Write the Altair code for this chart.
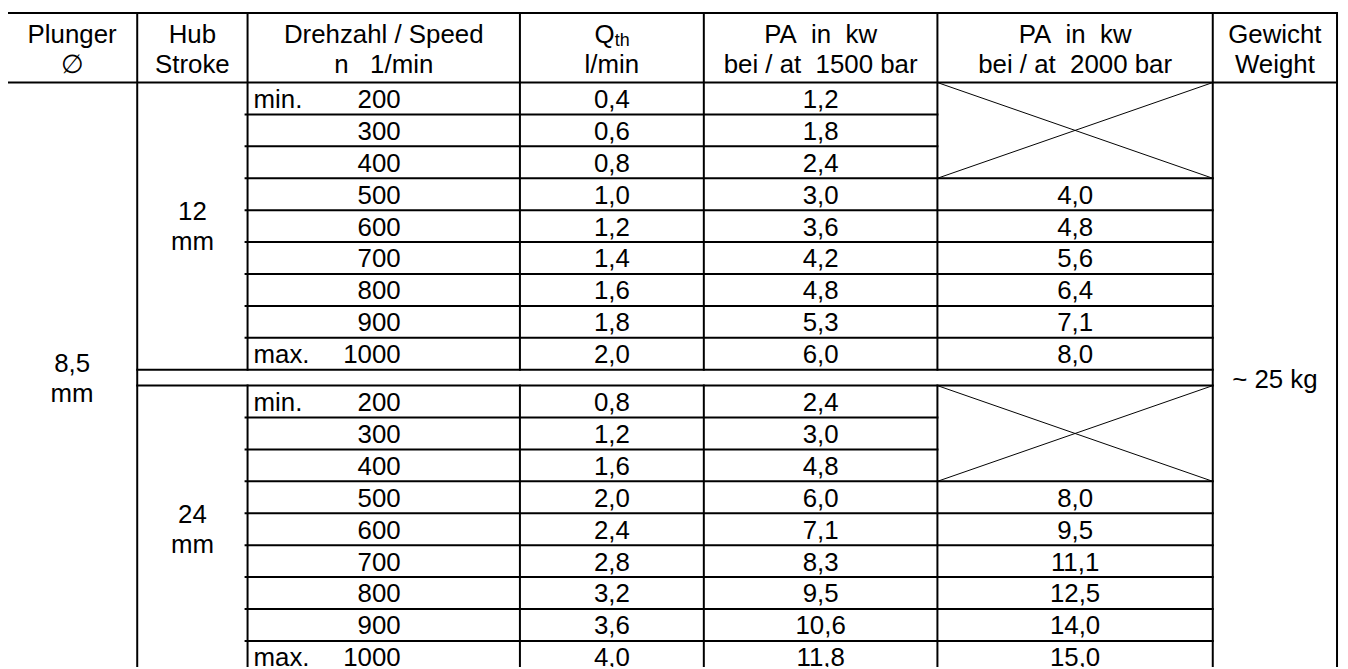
import altair as alt
import pandas as pd

# ---------------- data ----------------
speeds = [200, 300, 400, 500, 600, 700, 800, 900, 1000]
speed_tags = ["min.", "", "", "", "", "", "", "", "max."]

qth_12 = ["0,4", "0,6", "0,8", "1,0", "1,2", "1,4", "1,6", "1,8", "2,0"]
pa1500_12 = ["1,2", "1,8", "2,4", "3,0", "3,6", "4,2", "4,8", "5,3", "6,0"]
pa2000_12 = ["", "", "", "4,0", "4,8", "5,6", "6,4", "7,1", "8,0"]

qth_24 = ["0,8", "1,2", "1,6", "2,0", "2,4", "2,8", "3,2", "3,6", "4,0"]
pa1500_24 = ["2,4", "3,0", "4,8", "6,0", "7,1", "8,3", "9,5", "10,6", "11,8"]
pa2000_24 = ["", "", "", "8,0", "9,5", "11,1", "12,5", "14,0", "15,0"]

strokes = ["12", "24"]
stroke_unit = "mm"
plunger = ["8,5", "mm"]
weight = "~ 25 kg"

NB = "\u00a0"
header_1 = ["Plunger", "Hub", "Drehzahl / Speed", "Q",
            f"PA{NB}{NB}in{NB}{NB}kw", f"PA{NB}{NB}in{NB}{NB}kw", "Gewicht"]
header_2 = ["\u2205", "Stroke", f"n{NB}{NB}{NB}1/min", "l/min",
            f"bei / at{NB}{NB}1500 bar", f"bei / at{NB}{NB}2000 bar", "Weight"]
q_sub = "th"

# ---------------- layout (page pixels) ----------------
W, H = 1340, 661
M = 8
FS = 26
FONT = "Liberation Sans"
col_edges = [7, 138, 249, 523, 708, 943, 1220, 1345]
y_top, y_head, row_h, gap_h = 11, 81, 32.1, 16
n_rows = len(speeds)
b1_top = y_head
gap_top = b1_top + n_rows * row_h
b2_top = gap_top + gap_h
b2_bot = b2_top + n_rows * row_h

X = [c - M for c in col_edges]
def Y(v):
    return v - M

centers = [(X[i] + X[i + 1]) / 2 for i in range(len(X) - 1)]

# ---------------- grid lines ----------------
segs = []
def seg(x, y, x2, y2, w=2):
    segs.append(dict(x=x, y=Y(y), x2=x2, y2=Y(y2), w=w))

seg(X[0], y_top, X[7], y_top)
seg(X[0], y_head, X[7], y_head)
for btop in (b1_top, b2_top):
    for k in range(1, n_rows):
        yy = btop + k * row_h
        seg(X[2] - 2, yy, X[5] if k < 3 else X[6], yy)
    # crossed-out cell (no value at 2000 bar for the lowest speeds)
    seg(X[5], btop, X[6], btop + 3 * row_h, 1)
    seg(X[6], btop, X[5], btop + 3 * row_h, 1)
seg(X[1], gap_top, X[6], gap_top)
seg(X[1], b2_top, X[6], b2_top)
seg(X[0], b2_bot, X[7], b2_bot)
for i in (0, 1, 6, 7):
    seg(X[i], y_top, X[i], b2_bot)
for i in (2, 3, 4, 5):
    seg(X[i], y_top, X[i], gap_top)
    seg(X[i], b2_top, X[i], b2_bot)
seg_df = pd.DataFrame(segs)

# ---------------- text ----------------
center_t, left_t, right_t, sub_t = [], [], [], []
h1, h2 = 41, 71
for i in range(7):
    if i == 3:
        continue
    center_t.append(dict(x=centers[i], y=Y(h1), t=header_1[i]))
    center_t.append(dict(x=centers[i], y=Y(h2), t=header_2[i]))
left_t.append(dict(x=centers[3] - 17.5, y=Y(h1), t=header_1[3]))
sub_t.append(dict(x=centers[3] + 3, y=Y(h1 + 3), t=q_sub))
center_t.append(dict(x=centers[3], y=Y(h2), t=header_2[3]))

blocks = [(b1_top, qth_12, pa1500_12, pa2000_12), (b2_top, qth_24, pa1500_24, pa2000_24)]
for bi, (btop, q, p15, p20) in enumerate(blocks):
    for k in range(n_rows):
        base = btop + k * row_h + 25.5
        if speed_tags[k]:
            left_t.append(dict(x=X[2] + 6, y=Y(base), t=speed_tags[k]))
        right_t.append(dict(x=403 - M, y=Y(base), t=str(speeds[k])))
        for ci, arr in ((3, q), (4, p15), (5, p20)):
            if arr[k]:
                center_t.append(dict(x=centers[ci], y=Y(base), t=arr[k]))
    mid = btop + n_rows * row_h / 2
    center_t.append(dict(x=centers[1], y=Y(mid - 6), t=strokes[bi]))
    center_t.append(dict(x=centers[1], y=Y(mid + 24), t=stroke_unit))

pmid = 378
center_t.append(dict(x=centers[0], y=Y(pmid - 6), t=plunger[0]))
center_t.append(dict(x=centers[0], y=Y(pmid + 24), t=plunger[1]))
center_t.append(dict(x=centers[6], y=Y(pmid + 10), t=weight))

xs = alt.Scale(domain=[0, W], nice=False, zero=False)
ys = alt.Scale(domain=[0, H], nice=False, zero=False, reverse=True)

rules = alt.Chart(seg_df).mark_rule(color="black", strokeCap="square", clip=True).encode(
    x=alt.X("x:Q", scale=xs, axis=None), x2="x2:Q",
    y=alt.Y("y:Q", scale=ys, axis=None), y2="y2:Q",
    strokeWidth=alt.StrokeWidth("w:Q", scale=None),
)

def text_layer(rows, align, size=FS):
    return alt.Chart(pd.DataFrame(rows)).mark_text(
        align=align, baseline="alphabetic", font=FONT, fontSize=size, color="black", clip=True
    ).encode(
        x=alt.X("x:Q", scale=xs, axis=None),
        y=alt.Y("y:Q", scale=ys, axis=None),
        text="t:N",
    )

chart = alt.layer(
    rules,
    text_layer(center_t, "center"),
    text_layer(left_t, "left"),
    text_layer(right_t, "right"),
    text_layer(sub_t, "left", 18),
).properties(
    width=W, height=H, padding=0,
    autosize=alt.AutoSizeParams(type="fit", contains="padding"),
    background="white",
).configure_view(stroke=None)

chart.save("out.html", embed_options={"renderer": "svg", "actions": False})
